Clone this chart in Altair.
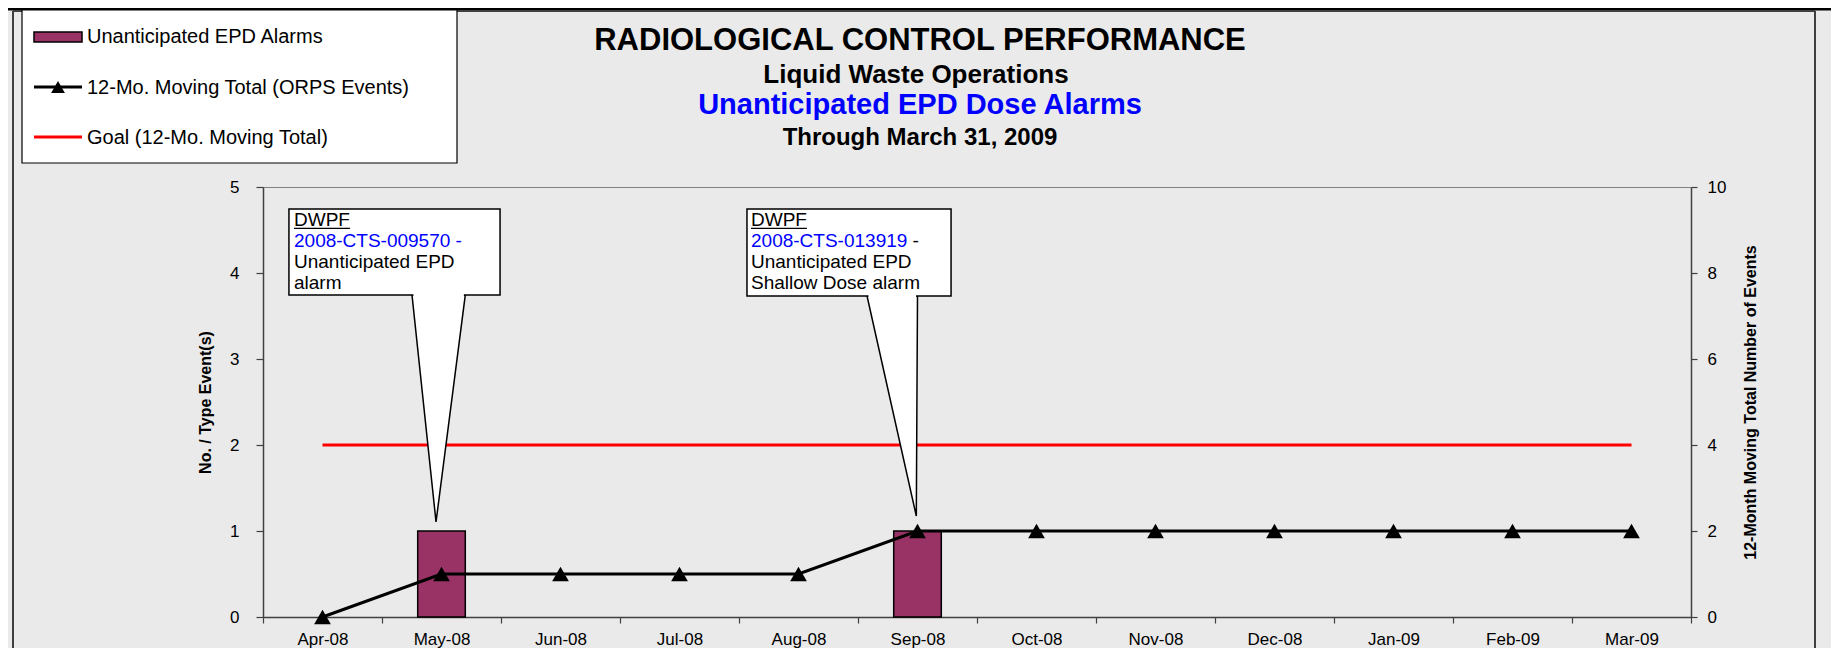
import altair as alt
import pandas as pd

# ---------------- data ----------------
months = ["Apr-08", "May-08", "Jun-08", "Jul-08", "Aug-08", "Sep-08",
          "Oct-08", "Nov-08", "Dec-08", "Jan-09", "Feb-09", "Mar-09"]
epd_alarms = [0, 1, 0, 0, 0, 1, 0, 0, 0, 0, 0, 0]
moving_total = [0, 1, 1, 1, 1, 2, 2, 2, 2, 2, 2, 2]
goal_total = [4, 4, 4, 4, 4, 4, 4, 4, 4, 4, 4, 4]
left_ticks = [0, 1, 2, 3, 4, 5]
right_ticks = [0, 2, 4, 6, 8, 10]

callout_heads = ["DWPF", "DWPF"]
callout_ids = ["2008-CTS-009570 -", "2008-CTS-013919"]
callout_line3 = ["Unanticipated EPD", "Unanticipated EPD"]
callout_line4 = ["alarm", "Shallow Dose alarm"]

title_lines = ["RADIOLOGICAL CONTROL PERFORMANCE", "Liquid Waste Operations",
               "Unanticipated EPD Dose Alarms", "Through March 31, 2009"]
legend_labels = ["Unanticipated EPD Alarms", "12-Mo. Moving Total (ORPS Events)",
                 "Goal (12-Mo. Moving Total)"]

# ---------------- layout ----------------
FONT = "Liberation Sans, Arial, Helvetica, sans-serif"
W, H = 1428, 430
X0, Y0 = 263, 187          # page position of plot-area origin
PAD_L, PAD_T = X0 - 8, Y0 - 8
PAD_R = 1823 - PAD_L - W
PAD_B = 640 - PAD_T - H
CFS = 19                   # callout font size


def vx(p):
    return p - X0


def vy(p):
    return p - Y0


BAR = "#993366"
BLUE = "#0000FF"
AXC = "#404040"

df = pd.DataFrame({"month": months, "alarms": epd_alarms,
                   "total": moving_total, "goal": goal_total})

x_band = alt.X("month:N", sort=months,
               scale=alt.Scale(domain=months, paddingInner=0, paddingOuter=0),
               axis=alt.Axis(title=None, labelAngle=0, tickBand="extent",
                             domainColor=AXC, tickColor=AXC, domainWidth=1.5,
                             tickWidth=1.2, tickSize=6, labelPadding=8,
                             labelFontSize=17, labelFont=FONT, labelColor="black",
                             grid=False))
x_pt = alt.X("month:N", sort=months,
             scale=alt.Scale(domain=months, type="point", padding=0.5), axis=None)

left_axis = alt.Axis(values=left_ticks, title="No. / Type Event(s)", grid=False,
                     titleFont=FONT, titleFontSize=16, titleFontWeight="bold",
                     titleColor="black", titleAngle=270, titleX=-58, titleY=H / 2,
                     titleBaseline="middle", titleAlign="center",
                     labelFont=FONT, labelFontSize=17, labelColor="black",
                     tickSize=7, labelPadding=17, domainColor=AXC, tickColor=AXC,
                     domainWidth=1.5, tickWidth=1.2)
right_axis = alt.Axis(orient="right", values=right_ticks,
                      title="12-Month Moving Total Number of Events", grid=False,
                      titleFont=FONT, titleFontSize=16, titleFontWeight="bold",
                      titleColor="black", titleAngle=270, titleX=59, titleY=H / 2,
                      titleBaseline="middle", titleAlign="center",
                      labelFont=FONT, labelFontSize=17, labelColor="black",
                      tickSize=6, labelPadding=10, domainColor=AXC, tickColor=AXC,
                      domainWidth=1.5, tickWidth=1.2)

y_left = alt.Scale(domain=[0, 5], nice=False, zero=True)
y_right = alt.Scale(domain=[0, 10], nice=False, zero=True)

bars = alt.Chart(df).transform_filter("datum.alarms > 0").mark_bar(
    fill=BAR, stroke="black", strokeWidth=1.5, width=alt.RelativeBandSize(0.4)
).encode(x=x_band, y=alt.Y("alarms:Q", scale=y_left, axis=left_axis))

goal = alt.Chart(df).mark_line(color="#FF0000", strokeWidth=3).encode(
    x=x_pt, y=alt.Y("goal:Q", scale=y_right, axis=right_axis))

total_line = alt.Chart(df).mark_line(color="black", strokeWidth=3).encode(
    x=x_pt, y=alt.Y("total:Q", scale=y_right, axis=None))
total_pts = alt.Chart(df).mark_point(shape="triangle-up", filled=True, size=280,
                                     color="black", opacity=1).encode(
    x=x_pt, y=alt.Y("total:Q", scale=y_right, axis=None))

# ---------------- callouts (data units: x = month index 0..12, y = left axis) --------
ax_s = alt.Scale(domain=[0, 12], nice=False, zero=False)
ay_s = alt.Scale(domain=[0, 5], nice=False, zero=False)


def AX(f):
    return alt.X(f, type="quantitative", scale=ax_s, axis=None)


def AY(f):
    return alt.Y(f, type="quantitative", scale=ay_s, axis=None)


boxes = [(0.218, 1.992, 3.745, 4.744), (4.067, 5.782, 3.733, 4.744)]
pointers = [(1.252, 1.70, 1.454, 1.105), (5.076, 5.50, 5.49, 1.174)]
text_x = [0.2605, 4.101]
line_y = [4.547, 4.302, 4.058, 3.814]

ptr_rows, box_rows, cover_rows, txt_rows, ul_rows = [], [], [], [], []
for i in range(2):
    bx0, bx1, by0, by1 = boxes[i]
    px0, px1, tx, ty = pointers[i]
    ptr_rows += [{"cid": i, "x": px0, "y": by0, "y2": by0},
                 {"cid": i, "x": tx, "y": ty, "y2": by0},
                 {"cid": i, "x": px1, "y": by0, "y2": by0}]
    box_rows.append({"x": bx0, "x2": bx1, "y": by0, "y2": by1})
    cover_rows.append({"x": px0 + 0.012, "x2": px1 - 0.012, "y": by0})
    txt_rows.append({"x": text_x[i], "y": line_y[0], "t": callout_heads[i], "c": "black"})
    txt_rows.append({"x": text_x[i], "y": line_y[1], "t": callout_ids[i], "c": BLUE})
    txt_rows.append({"x": text_x[i], "y": line_y[2], "t": callout_line3[i], "c": "black"})
    txt_rows.append({"x": text_x[i], "y": line_y[3], "t": callout_line4[i], "c": "black"})
    ul_rows.append({"x": text_x[i], "x2": text_x[i] + 2.944 * CFS / 119,
                    "y": line_y[0] - 2.5 / 86})
# trailing black dash after the second id
txt_rows.append({"x": text_x[1] + (8.226 + 0.278) * CFS / 119, "y": line_y[1],
                 "t": "-", "c": "black"})

pointer = alt.Chart(pd.DataFrame(ptr_rows)).mark_area(
    fill="white", stroke="black", strokeWidth=1.5, interpolate="linear", opacity=1
).encode(x=AX("x"), y=AY("y"), y2="y2:Q", detail="cid:N")
box = alt.Chart(pd.DataFrame(box_rows)).mark_rect(
    fill="white", stroke="black", strokeWidth=1.5
).encode(x=AX("x"), x2="x2:Q", y=AY("y"), y2="y2:Q")
cover = alt.Chart(pd.DataFrame(cover_rows)).mark_rule(color="white", strokeWidth=3).encode(
    x=AX("x"), x2="x2:Q", y=AY("y"))
ctext = alt.Chart(pd.DataFrame(txt_rows)).mark_text(
    align="left", baseline="alphabetic", fontSize=CFS, font=FONT
).encode(x=AX("x"), y=AY("y"), text="t:N", color=alt.Color("c:N", scale=None))
uline = alt.Chart(pd.DataFrame(ul_rows)).mark_rule(color="black", strokeWidth=1.2).encode(
    x=AX("x"), x2="x2:Q", y=AY("y"))

# ---------------- decorations (pixel placed) ----------------
one = pd.DataFrame({"d": [0]})


def hrule(x1, x2, y, color, w):
    return alt.Chart(one).mark_rule(color=color, strokeWidth=w).encode(
        x=alt.value(vx(x1)), x2=alt.value(vx(x2)), y=alt.value(vy(y)))


def vrule(x, y1, y2, color, w):
    return alt.Chart(one).mark_rule(color=color, strokeWidth=w).encode(
        x=alt.value(vx(x)), y=alt.value(vy(y1)), y2=alt.value(vy(y2)))


def rect(x1, y1, x2, y2, fill, stroke, w):
    return alt.Chart(one).mark_rect(fill=fill, stroke=stroke, strokeWidth=w).encode(
        x=alt.value(vx(x1)), x2=alt.value(vx(x2)), y=alt.value(vy(y1)), y2=alt.value(vy(y2)))


def text(t, x, y, size, color="black", weight="normal", align="left"):
    return alt.Chart(one).mark_text(text=t, fontSize=size, font=FONT, color=color,
                                    fontWeight=weight, align=align,
                                    baseline="alphabetic").encode(
        x=alt.value(vx(x)), y=alt.value(vy(y)))


frame = [
    hrule(8, 1831, 9, "black", 3),
    vrule(13, 11, 660, "#404040", 2),
    hrule(13, 1815, 11, "#404040", 2),
    vrule(1815, 11, 660, "#404040", 2),
]

legend = [
    rect(22, 10, 457, 163, "white", "black", 1.2),
    rect(34, 32, 82, 42, BAR, "black", 1.5),
    hrule(34, 82, 87, "black", 3),
    alt.Chart(one).mark_point(shape="triangle-up", filled=True, size=190, color="black",
                              opacity=1).encode(x=alt.value(vx(58)), y=alt.value(vy(87))),
    hrule(34, 82, 137, "#FF0000", 3),
    text(legend_labels[0], 87, 43, 20),
    text(legend_labels[1], 87, 94, 20),
    text(legend_labels[2], 87, 144, 20),
]

titles = [
    text(title_lines[0], 920, 50, 31, weight="bold", align="center"),
    text(title_lines[1], 916, 83, 26, weight="bold", align="center"),
    text(title_lines[2], 920, 114, 29, color=BLUE, weight="bold", align="center"),
    text(title_lines[3], 920, 145, 24, weight="bold", align="center"),
]

layers = frame + [bars, goal, total_line, total_pts,
                  pointer, box, cover, ctext, uline] + legend + titles

chart = alt.layer(*layers).resolve_scale(x="independent", y="independent").properties(
    width=W, height=H,
    padding={"left": PAD_L, "top": PAD_T, "right": PAD_R, "bottom": PAD_B},
    autosize=alt.AutoSizeParams(type="none"),
).configure(background="#EAEAEA").configure_view(stroke="#808080", strokeWidth=1)

chart.save("out.html", embed_options={"renderer": "svg", "actions": False})
